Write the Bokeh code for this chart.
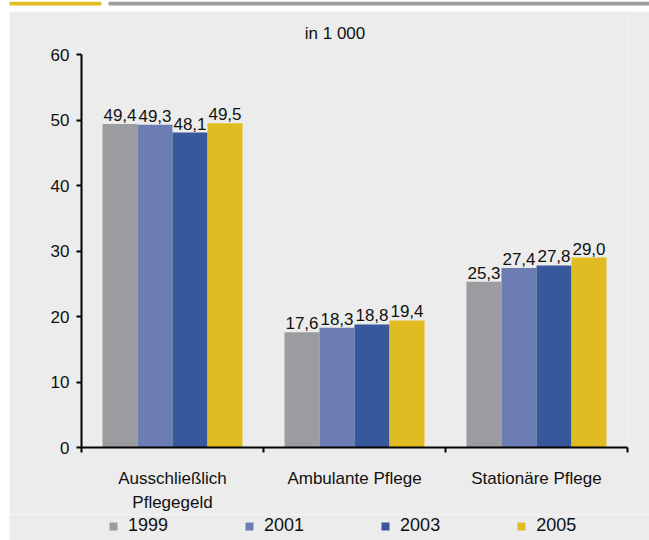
from bokeh.plotting import figure
from bokeh.models import (Range1d, FixedTicker, ColumnDataSource, Legend, LegendItem, Spacer)
from bokeh.layouts import column, row
from bokeh.core.properties import value
from bokeh.embed import file_html
from bokeh.resources import INLINE

# ---- data ----
categories = ["Ausschließlich\nPflegegeld", "Ambulante Pflege", "Stationäre Pflege"]
years = ["1999", "2001", "2003", "2005"]
v1999 = [49.4, 17.6, 25.3]
v2001 = [49.3, 18.3, 27.4]
v2003 = [48.1, 18.8, 27.8]
v2005 = [49.5, 19.4, 29.0]
series = [v1999, v2001, v2003, v2005]
y_ticks = [0, 10, 20, 30, 40, 50, 60]
title_text = "in 1 000"

colors = ["#9b9ca0", "#6c7db3", "#37589b", "#e0bc22"]
FONT = "Liberation Sans"
BG = "#ebeceb"
TXT = "#111111"

# ---- decorative top strip ----
strip = figure(width=649, height=11, output_backend="svg", toolbar_location=None,
               x_range=Range1d(0, 649), y_range=Range1d(0, 11),
               min_border=0, x_axis_type=None, y_axis_type=None, frame_align=False,
               background_fill_color="white", border_fill_color="white", outline_line_color=None)
strip.xgrid.visible = False
strip.ygrid.visible = False
strip.quad(left=[9, 108], right=[101, 649], bottom=[7, 7], top=[11, 11],
           fill_color=["#e2bd23", "#9c9c9e"], line_color=None)

# ---- main chart ----
y_top = 66.58
p = figure(width=640, height=503, output_backend="svg", toolbar_location=None,
           x_range=Range1d(0, 3), y_range=Range1d(0, y_top), frame_align=False,
           min_border_left=72, min_border_right=22, min_border_top=0, min_border_bottom=65,
           background_fill_color=BG, border_fill_color=BG, outline_line_color=None)

bw = 0.1923
renderers = []
for k, (yr, vals, col) in enumerate(zip(years, series, colors)):
    xs = [i + 0.5 + (k - 1.5) * bw for i in range(len(categories))]
    src = ColumnDataSource(dict(x=xs, top=vals,
                                lab=[f"{v:.1f}".replace(".", ",") for v in vals]))
    r = p.vbar(x="x", top="top", width=bw, bottom=0, source=src,
               fill_color=col, line_color=None)
    renderers.append(r)
    p.text(x="x", y="top", text="lab", source=src, text_align="center",
           text_baseline="alphabetic", y_offset=-9, text_font=value(FONT),
           text_font_size="17px", text_color=TXT)

# title inside the (extended) frame, above the y axis end
p.text(x=[1.393], y=[63.25], text=[title_text], text_align="center", text_baseline="middle",
       text_font=value(FONT), text_font_size="17px", text_color=TXT)

p.xgrid.visible = False
p.ygrid.visible = False

# y axis
p.yaxis.ticker = FixedTicker(ticks=y_ticks)
p.yaxis.bounds = (0, 60)
p.yaxis.minor_tick_line_color = None
p.yaxis.major_tick_out = 5
p.yaxis.major_tick_in = 0
p.yaxis.major_label_standoff = 7
p.yaxis.axis_line_width = 2
p.yaxis.major_tick_line_width = 2
p.yaxis.axis_line_color = "black"
p.yaxis.major_label_text_font = FONT
p.yaxis.major_label_text_font_size = "17px"
p.yaxis.major_label_text_color = TXT

# x axis
p.xaxis.ticker = FixedTicker(ticks=[i + 0.5 for i in range(len(categories))],
                             minor_ticks=list(range(len(categories) + 1)))
p.xaxis.major_label_overrides = {i + 0.5: c for i, c in enumerate(categories)}
p.xaxis.major_tick_out = 0
p.xaxis.major_tick_in = 0
p.xaxis.major_tick_line_color = None
p.xaxis.minor_tick_out = 5
p.xaxis.minor_tick_in = 0
p.xaxis.minor_tick_line_width = 2
p.xaxis.minor_tick_line_color = "black"
p.xaxis.axis_line_width = 2
p.xaxis.axis_line_color = "black"
p.xaxis.major_label_standoff = 16
p.xaxis.major_label_text_font = FONT
p.xaxis.major_label_text_font_size = "17px"
p.xaxis.major_label_text_line_height = 1.28
p.xaxis.major_label_text_color = TXT

# ---- legend row ----
lg = figure(width=640, height=26, output_backend="svg", toolbar_location=None,
            x_range=Range1d(0, 1), y_range=Range1d(0, 1), frame_align=False,
            min_border=0, x_axis_type=None, y_axis_type=None,
            background_fill_color=BG, border_fill_color=BG, outline_line_color=None)
lg.xgrid.visible = False
lg.ygrid.visible = False
items = []
for yr, col in zip(years, colors):
    r = lg.vbar(x=[0.5], top=[0], bottom=[0], width=0.0, fill_color=col, line_color=None)
    items.append(LegendItem(label=yr, renderers=[r]))
legend = Legend(items=items, orientation="horizontal", location=(99, 4), margin=0, padding=0,
                glyph_width=10, glyph_height=10, label_standoff=10, spacing=76,
                label_text_font=FONT, label_text_font_size="18px", label_text_color=TXT,
                background_fill_alpha=0, border_line_alpha=0)
lg.add_layout(legend)

layout = column(strip, row(Spacer(width=9, height=529), column(p, lg, spacing=0), spacing=0),
                spacing=0)
open("out.html", "w").write(file_html(layout, INLINE))
